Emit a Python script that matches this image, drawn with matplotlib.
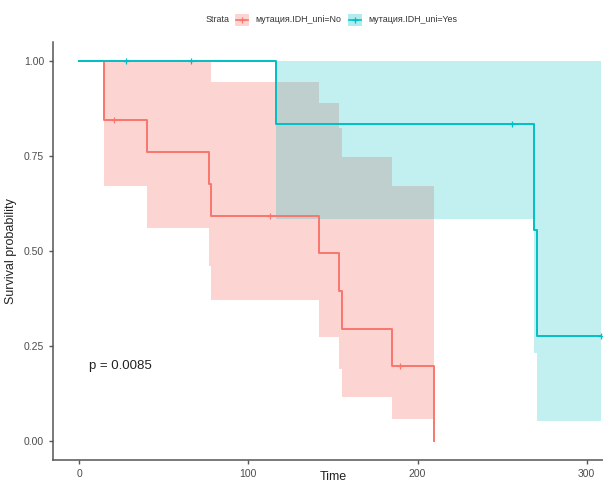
import numpy as np
import matplotlib.pyplot as plt
from matplotlib.patches import Rectangle
from matplotlib.lines import Line2D

plt.rcParams['font.family'] = ['Liberation Sans', 'DejaVu Sans']

# группа IDH_uni = No
no_t = [0, 15, 40, 77, 77.7, 141.6, 153.6, 155.4, 184.9, 209.8]
no_s = [1.0, 0.846, 0.761, 0.677, 0.592, 0.494, 0.395, 0.296, 0.197, 0.0]
no_lo = [1.0, 0.672, 0.560, 0.461, 0.371, 0.273, 0.19, 0.117, 0.057, 0.057]
no_hi = [1.0, 1.0, 1.0, 1.0, 0.945, 0.889, 0.823, 0.748, 0.672, 0.672]
no_cens_t = [20.6, 112.7, 189.4]
no_cens_s = [0.846, 0.592, 0.197]

# группа IDH_uni = Yes
yes_t = [0, 116.6, 268.6, 270.6, 308.6]
yes_s = [1.0, 0.833, 0.555, 0.277, 0.277]
yes_lo = [1.0, 0.584, 0.231, 0.053, 0.053]
yes_hi = [1.0, 1.0, 1.0, 1.0, 1.0]
yes_cens_t = [27.7, 65.9, 255.6, 308.6]
yes_cens_s = [1.0, 1.0, 0.833, 0.277]

red = '#F8766D'
cyan = '#00BFC4'

fig = plt.figure(figsize=(6.03, 4.84), dpi=100)
ax = fig.add_axes([53 / 603, 1 - 460 / 484, 1 - 53 / 603, 418 / 484])

# доверительные интервалы
ax.fill_between(no_t, no_lo, no_hi, step='post', color=red, alpha=0.3, lw=0)
ax.fill_between(yes_t, yes_lo, yes_hi, step='post', color=cyan, alpha=0.24, lw=0)

# кривые
ax.step(no_t, no_s, where='post', color=red, lw=1.4)
ax.step(yes_t, yes_s, where='post', color=cyan, lw=1.4)
ax.plot(no_cens_t, no_cens_s, '+', color=red, ms=5, mew=0.9)
ax.plot(yes_cens_t, yes_cens_s, '+', color=cyan, ms=5, mew=0.9, clip_on=False)

ax.text(5.9, 0.197, 'p = 0.0085', fontsize=9.5, color='#222222', va='center', ha='left')

ax.set_xlim(-15.4, 309.6)
ax.set_ylim(-0.05, 1.05)
ax.set_xticks([0, 100, 200, 300])
ax.set_yticks([0, 0.25, 0.5, 0.75, 1.0])
ax.set_yticklabels(['0.00', '0.25', '0.50', '0.75', '1.00'])
ax.tick_params(colors='#555555', labelcolor='#4d4d4d', labelsize=7.5, length=3, width=1)
for s in ['top', 'right']:
    ax.spines[s].set_visible(False)
for s in ['left', 'bottom']:
    ax.spines[s].set_color('#555555')
    ax.spines[s].set_linewidth(1.1)

ax.set_ylabel('Survival probability', fontsize=9, color='#222222')
ax.yaxis.set_label_coords(-0.065, 0.5)
ax.set_xlabel('Time', fontsize=9, color='#222222')
ax.xaxis.set_label_coords(0.51, -0.026)

# легенда сверху
fig.text(206 / 603, 1 - 20 / 484, 'Strata', fontsize=6.4, color='#333333', va='center', ha='left')
for x0, col, lab in [(235, red, 'мутация.IDH_uni=No'), (348, cyan, 'мутация.IDH_uni=Yes')]:
    fig.add_artist(Rectangle((x0 / 603, 1 - 26 / 484), 14 / 603, 12 / 484,
                             transform=fig.transFigure, color=col, alpha=0.3, lw=0))
    fig.add_artist(Line2D([(x0 + 1) / 603, (x0 + 13) / 603], [1 - 20 / 484] * 2,
                          transform=fig.transFigure, color=col, lw=1.2))
    fig.add_artist(Line2D([(x0 + 7) / 603], [1 - 20 / 484], transform=fig.transFigure,
                          marker='+', ms=5, color=col, mew=0.9))
    fig.text((x0 + 20) / 603, 1 - 20 / 484, lab, fontsize=6.4, color='#333333', va='center', ha='left')

fig.savefig('out.png', dpi=100)
